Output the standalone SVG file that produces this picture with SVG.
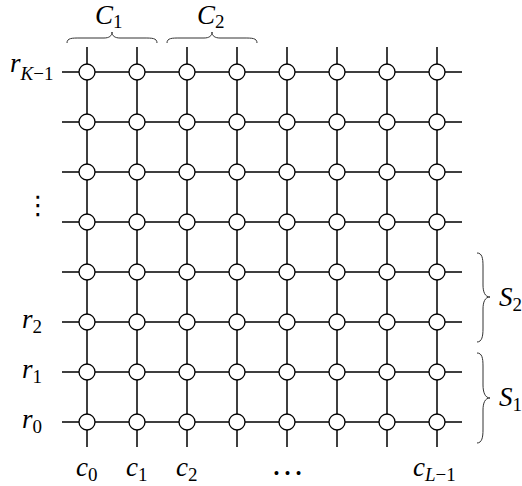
<svg xmlns="http://www.w3.org/2000/svg" width="522" height="486" viewBox="0 0 522 486">
<style>
.ln{stroke:#000;stroke-width:1.5;fill:none}
.nd{fill:#fff;stroke:#000;stroke-width:1.3}
.br{fill:none;stroke:#333;stroke-width:1}
.t{font-family:"Liberation Serif",serif;font-size:27px;font-style:italic;fill:#000}
.s{font-size:19px}
.u{font-style:normal}
.d{font-family:"Liberation Serif",serif;font-size:33px;fill:#000}
.v{font-family:"DejaVu Sans",sans-serif;font-size:26px;fill:#000}
</style>
<rect width="522" height="486" fill="#fff"/>
<g id="connectors">
<path class="ln" d="M62 72H462M62 122H462M62 172H462M62 222H462M62 272H462M62 322H462M62 372H462M62 422H462"/>
<path class="ln" d="M87 47V447M137 47V447M187 47V447M237 47V447M287 47V447M337 47V447M387 47V447M437 47V447"/>
</g>
<g id="nodes">
<g id="n7_0"><circle class="nd" cx="87" cy="72" r="8"/></g><g id="n7_1"><circle class="nd" cx="137" cy="72" r="8"/></g><g id="n7_2"><circle class="nd" cx="187" cy="72" r="8"/></g><g id="n7_3"><circle class="nd" cx="237" cy="72" r="8"/></g><g id="n7_4"><circle class="nd" cx="287" cy="72" r="8"/></g><g id="n7_5"><circle class="nd" cx="337" cy="72" r="8"/></g><g id="n7_6"><circle class="nd" cx="387" cy="72" r="8"/></g><g id="n7_7"><circle class="nd" cx="437" cy="72" r="8"/></g>
<g id="n6_0"><circle class="nd" cx="87" cy="122" r="8"/></g><g id="n6_1"><circle class="nd" cx="137" cy="122" r="8"/></g><g id="n6_2"><circle class="nd" cx="187" cy="122" r="8"/></g><g id="n6_3"><circle class="nd" cx="237" cy="122" r="8"/></g><g id="n6_4"><circle class="nd" cx="287" cy="122" r="8"/></g><g id="n6_5"><circle class="nd" cx="337" cy="122" r="8"/></g><g id="n6_6"><circle class="nd" cx="387" cy="122" r="8"/></g><g id="n6_7"><circle class="nd" cx="437" cy="122" r="8"/></g>
<g id="n5_0"><circle class="nd" cx="87" cy="172" r="8"/></g><g id="n5_1"><circle class="nd" cx="137" cy="172" r="8"/></g><g id="n5_2"><circle class="nd" cx="187" cy="172" r="8"/></g><g id="n5_3"><circle class="nd" cx="237" cy="172" r="8"/></g><g id="n5_4"><circle class="nd" cx="287" cy="172" r="8"/></g><g id="n5_5"><circle class="nd" cx="337" cy="172" r="8"/></g><g id="n5_6"><circle class="nd" cx="387" cy="172" r="8"/></g><g id="n5_7"><circle class="nd" cx="437" cy="172" r="8"/></g>
<g id="n4_0"><circle class="nd" cx="87" cy="222" r="8"/></g><g id="n4_1"><circle class="nd" cx="137" cy="222" r="8"/></g><g id="n4_2"><circle class="nd" cx="187" cy="222" r="8"/></g><g id="n4_3"><circle class="nd" cx="237" cy="222" r="8"/></g><g id="n4_4"><circle class="nd" cx="287" cy="222" r="8"/></g><g id="n4_5"><circle class="nd" cx="337" cy="222" r="8"/></g><g id="n4_6"><circle class="nd" cx="387" cy="222" r="8"/></g><g id="n4_7"><circle class="nd" cx="437" cy="222" r="8"/></g>
<g id="n3_0"><circle class="nd" cx="87" cy="272" r="8"/></g><g id="n3_1"><circle class="nd" cx="137" cy="272" r="8"/></g><g id="n3_2"><circle class="nd" cx="187" cy="272" r="8"/></g><g id="n3_3"><circle class="nd" cx="237" cy="272" r="8"/></g><g id="n3_4"><circle class="nd" cx="287" cy="272" r="8"/></g><g id="n3_5"><circle class="nd" cx="337" cy="272" r="8"/></g><g id="n3_6"><circle class="nd" cx="387" cy="272" r="8"/></g><g id="n3_7"><circle class="nd" cx="437" cy="272" r="8"/></g>
<g id="n2_0"><circle class="nd" cx="87" cy="322" r="8"/></g><g id="n2_1"><circle class="nd" cx="137" cy="322" r="8"/></g><g id="n2_2"><circle class="nd" cx="187" cy="322" r="8"/></g><g id="n2_3"><circle class="nd" cx="237" cy="322" r="8"/></g><g id="n2_4"><circle class="nd" cx="287" cy="322" r="8"/></g><g id="n2_5"><circle class="nd" cx="337" cy="322" r="8"/></g><g id="n2_6"><circle class="nd" cx="387" cy="322" r="8"/></g><g id="n2_7"><circle class="nd" cx="437" cy="322" r="8"/></g>
<g id="n1_0"><circle class="nd" cx="87" cy="372" r="8"/></g><g id="n1_1"><circle class="nd" cx="137" cy="372" r="8"/></g><g id="n1_2"><circle class="nd" cx="187" cy="372" r="8"/></g><g id="n1_3"><circle class="nd" cx="237" cy="372" r="8"/></g><g id="n1_4"><circle class="nd" cx="287" cy="372" r="8"/></g><g id="n1_5"><circle class="nd" cx="337" cy="372" r="8"/></g><g id="n1_6"><circle class="nd" cx="387" cy="372" r="8"/></g><g id="n1_7"><circle class="nd" cx="437" cy="372" r="8"/></g>
<g id="n0_0"><circle class="nd" cx="87" cy="422" r="8"/></g><g id="n0_1"><circle class="nd" cx="137" cy="422" r="8"/></g><g id="n0_2"><circle class="nd" cx="187" cy="422" r="8"/></g><g id="n0_3"><circle class="nd" cx="237" cy="422" r="8"/></g><g id="n0_4"><circle class="nd" cx="287" cy="422" r="8"/></g><g id="n0_5"><circle class="nd" cx="337" cy="422" r="8"/></g><g id="n0_6"><circle class="nd" cx="387" cy="422" r="8"/></g><g id="n0_7"><circle class="nd" cx="437" cy="422" r="8"/></g>
</g>
<g id="braces">
<path class="br" d="M67 43C67 38 72 38 80 38H104C109 38 112 36 112 32C112 36 115 38 120 38H144C152 38 157 38 157 43"/>
<path class="br" d="M167 43C167 38 172 38 180 38H204C209 38 212 36 212 32C212 36 215 38 220 38H244C252 38 257 38 257 43"/>
<path class="br" d="M477 253C482 253 483 258 483 266V285C483 292 485 297 490 297C485 297 483 302 483 309V329C483 336 482 342 477 342"/>
<path class="br" d="M477 353C482 353 483 358 483 366V385C483 392 485 398 490 398C485 398 483 403 483 410V430C483 437 482 443 477 443"/>
</g>
<g id="labels">
<text class="t" x="95" y="24">C<tspan class="s u" dy="4">1</tspan></text>
<text class="t" x="197" y="24">C<tspan class="s u" dy="4">2</tspan></text>
<text class="t" x="10" y="72">r<tspan class="s" dy="8">K</tspan><tspan class="s u">−1</tspan></text>
<text class="v" x="25" y="214">⋮</text>
<text class="t" x="22" y="328">r<tspan class="s u" dy="5">2</tspan></text>
<text class="t" x="22" y="378">r<tspan class="s u" dy="5">1</tspan></text>
<text class="t" x="22" y="428">r<tspan class="s u" dy="5">0</tspan></text>
<text class="t" x="499" y="306">S<tspan class="s u" dy="5">2</tspan></text>
<text class="t" x="499" y="406">S<tspan class="s u" dy="5">1</tspan></text>
<text class="t" x="76" y="476">c<tspan class="s u" dy="5">0</tspan></text>
<text class="t" x="126" y="476">c<tspan class="s u" dy="5">1</tspan></text>
<text class="t" x="176" y="476">c<tspan class="s u" dy="5">2</tspan></text>
<text class="d" x="287.5" y="475" text-anchor="middle">…</text>
<text class="t" x="413" y="476">c<tspan class="s" dy="5">L</tspan><tspan class="s u">−1</tspan></text>
</g>
</svg>
